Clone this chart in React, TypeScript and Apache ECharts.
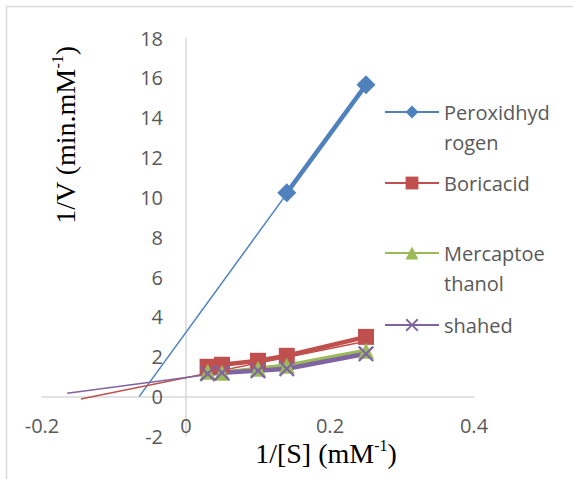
import React, { useEffect, useRef } from "react";
import * as echarts from "echarts";

// ---- data ----
const seriesNames = ["Peroxidhydrogen", "Boricacid", "Mercaptoethanol", "shahed"];
const xValues = [0.03, 0.05, 0.1, 0.14, 0.25];
const peroxideX = [0.14, 0.25];
const peroxideY = [10.23, 15.65];
const boricY = [1.5, 1.6, 1.8, 2.05, 3.0];
const mercaptoY = [1.25, 1.2, 1.4, 1.55, 2.3];
const shahedY = [1.15, 1.2, 1.3, 1.4, 2.15];
// linear trendlines (end points)
const peroxideTrendX = [-0.065, 0.25];
const peroxideTrendY = [0, 15.65];
const boricTrendX = [-0.146, 0.25];
const boricTrendY = [-0.12, 2.78];
const shahedTrendX = [-0.165, 0.25];
const shahedTrendY = [0.17, 2.15];
// axis
const xMin = -0.2, xMax = 0.4, xStep = 0.2;
const yMin = -2, yMax = 18, yStep = 2;

const pairs = (xs: number[], ys: number[]) => xs.map((x, i) => [x, ys[i]]);

const BLUE = "#4F81BD";
const RED = "#C0504D";
const GREEN = "#9BBB59";
const PURPLE = "#8064A2";
const LABEL = "#595959";
const SANS = "'Open Sans', 'Liberation Sans', sans-serif";
const SERIF = "'Liberation Serif', 'DejaVu Serif', serif";
const X_PATH =
  "path://M0,1 L1,0 L5,4 L9,0 L10,1 L6,5 L10,9 L9,10 L5,6 L1,10 L0,9 L4,5 Z";

export default function App() {
  const ref = useRef<HTMLDivElement>(null);
  useEffect(() => {
    document.body.style.margin = "0";
    const chart = echarts.init(ref.current!, null, { renderer: "svg" });
    const legendCommon = {
      orient: "vertical" as const,
      left: 384,
      padding: 0,
      itemWidth: 54,
      itemHeight: 16,
      selectedMode: false,
      textStyle: { fontFamily: SANS, fontSize: 20, color: LABEL, lineHeight: 30 },
    };
    const mainLine = (name: string, color: string, data: number[][], symbol: string, size: number) => ({
      type: "line",
      name,
      data,
      symbol,
      symbolSize: size,
      showSymbol: true,
      lineStyle: { color, width: 4.5 },
      itemStyle: { color },
      z: 3,
    });
    const trend = (color: string, data: number[][]) => ({
      type: "line",
      name: "",
      data,
      symbol: "none",
      lineStyle: { color, width: 1.5 },
      itemStyle: { color },
      z: 2,
    });
    chart.setOption({
      animation: false,
      backgroundColor: "#fff",
      grid: { left: 42, top: 38, width: 432, height: 398.5, outerBoundsMode: "none", containLabel: false },
      xAxis: {
        type: "value",
        min: xMin,
        max: xMax,
        interval: xStep,
        axisLine: { onZero: true, lineStyle: { color: "#D9D9D9", width: 1.5 } },
        axisTick: { show: false },
        splitLine: { show: false },
        axisLabel: { margin: -21, fontFamily: SANS, fontSize: 20, color: LABEL },
      },
      yAxis: {
        type: "value",
        min: yMin,
        max: yMax,
        interval: yStep,
        axisLine: { show: true, onZero: true, lineStyle: { color: "#D9D9D9", width: 1.5 } },
        axisTick: { show: false },
        splitLine: { show: false },
        axisLabel: { margin: -121, fontFamily: SANS, fontSize: 20, color: LABEL },
      },
      legend: [
        {
          ...legendCommon,
          top: 67,
          data: [seriesNames[0]],
          formatter: () => "\nPeroxidhyd\nrogen",
        },
        { ...legendCommon, top: 168, data: [seriesNames[1]] },
        {
          ...legendCommon,
          top: 208,
          data: [seriesNames[2]],
          formatter: () => "\nMercaptoe\nthanol",
        },
        { ...legendCommon, top: 310, data: [seriesNames[3]] },
      ],
      series: [
        trend(BLUE, pairs(peroxideTrendX, peroxideTrendY)),
        trend(RED, pairs(boricTrendX, boricTrendY)),
        trend(PURPLE, pairs(shahedTrendX, shahedTrendY)),
        mainLine(seriesNames[0], BLUE, pairs(peroxideX, peroxideY), "diamond", 19),
        mainLine(seriesNames[1], RED, pairs(xValues, boricY), "rect", 16),
        mainLine(seriesNames[2], GREEN, pairs(xValues, mercaptoY), "triangle", 16),
        mainLine(seriesNames[3], PURPLE, pairs(xValues, shahedY), X_PATH, 16),
      ],
      graphic: [
        {
          type: "rect",
          shape: { x: 6.5, y: 6.5, width: 700, height: 700 },
          style: { fill: "none", stroke: "#D9D9D9", lineWidth: 1.5 },
          silent: true,
          z: -1,
        },
        {
          type: "text",
          x: 65,
          y: 135,
          rotation: Math.PI / 2,
          style: {
            text: "{a|1/V (min.mM}{s|-1}{a|)}",
            align: "center",
            verticalAlign: "middle",
            rich: {
              a: { fontFamily: SERIF, fontSize: 28, fill: "#000", lineHeight: 32 },
              s: { fontFamily: SERIF, fontSize: 16, fill: "#000", verticalAlign: "top" },
            },
          },
        },
        {
          type: "text",
          x: 326,
          y: 453,
          style: {
            text: "{a|1/[S] (mM}{s|-1}{a|)}",
            align: "center",
            verticalAlign: "middle",
            rich: {
              a: { fontFamily: SERIF, fontSize: 28, fill: "#000", lineHeight: 32 },
              s: { fontFamily: SERIF, fontSize: 16, fill: "#000", verticalAlign: "top" },
            },
          },
        },
      ],
    });
    return () => chart.dispose();
  }, []);
  return <div ref={ref} style={{ width: 573, height: 479, background: "#fff" }} />;
}
